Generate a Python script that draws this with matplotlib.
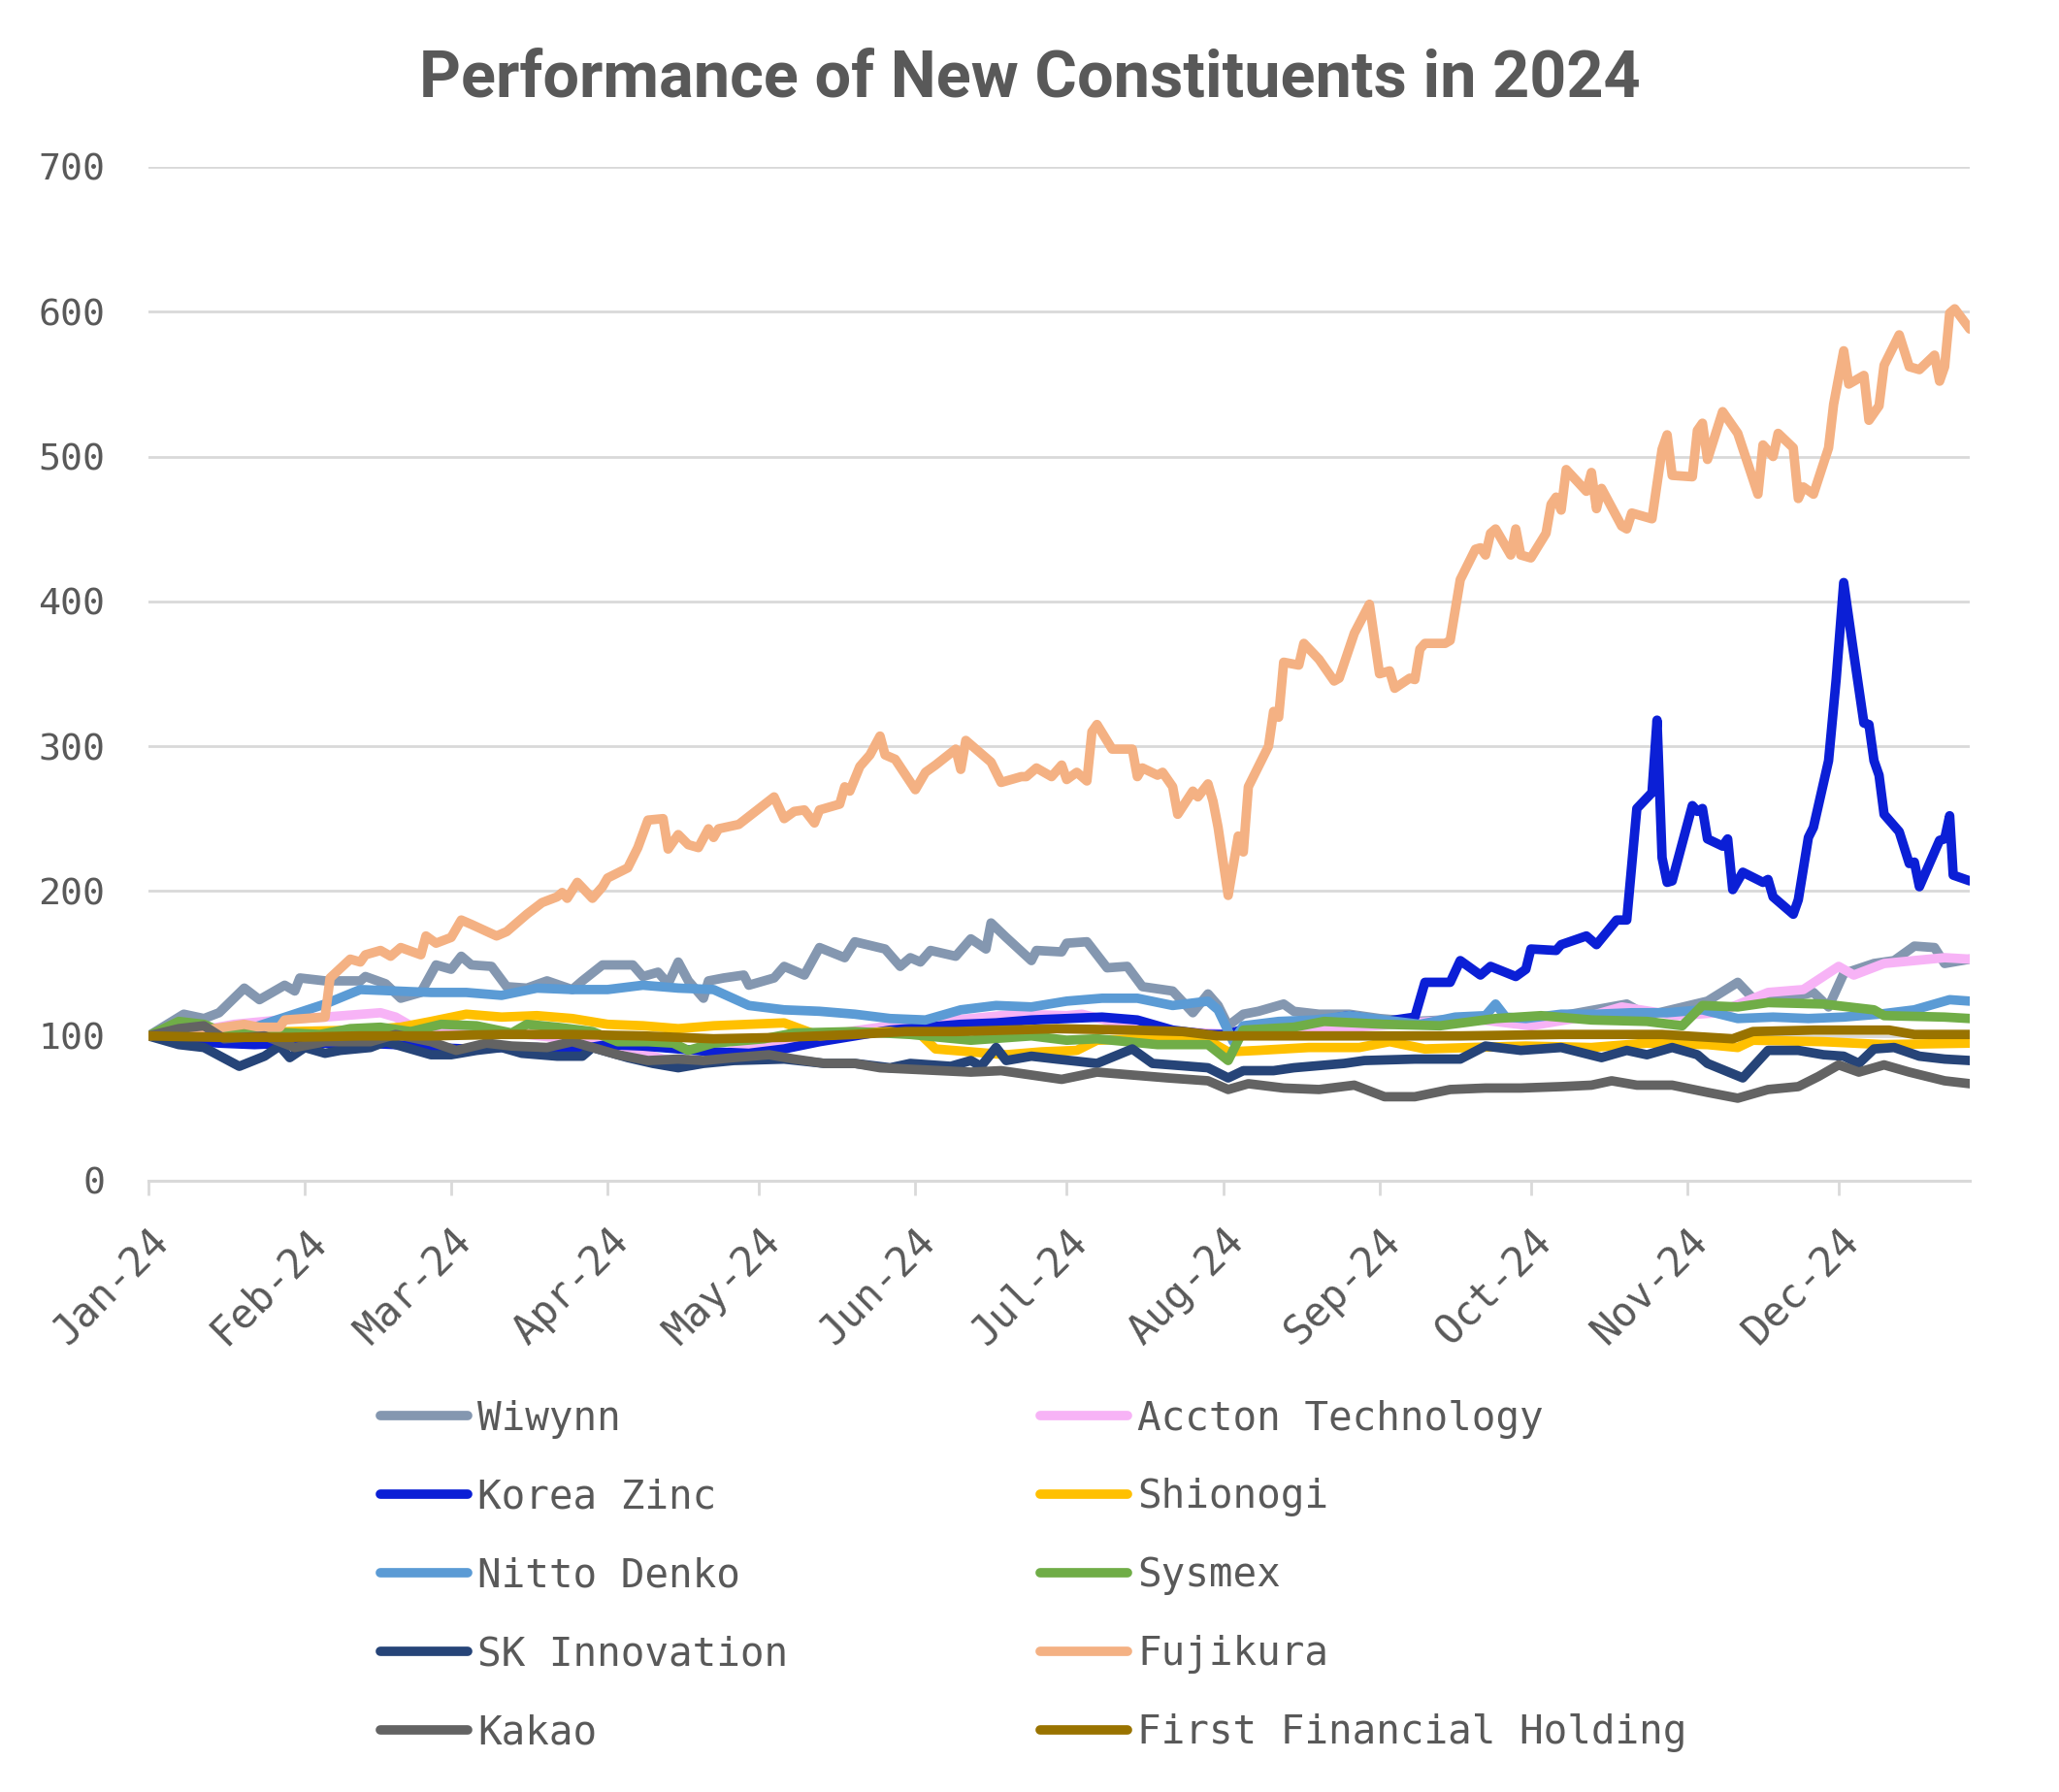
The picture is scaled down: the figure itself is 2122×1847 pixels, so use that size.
import pandas as pd
import matplotlib
matplotlib.use("Agg")
import matplotlib.pyplot as plt
import matplotlib.dates as mdates

# index values (start = 100), x given as days since 1 Jan 2024
wiwynn_days = [0, 7, 11, 14, 19, 22, 27, 29, 30, 35, 42, 43, 47, 50, 54, 57, 60, 62, 64, 68,
               71, 75, 79, 84, 86, 90, 96, 98, 101, 103, 105, 107, 110, 111, 114, 118, 119, 124, 126, 130,
               133, 138, 140, 146, 149, 151, 153, 155, 160, 163, 166, 167, 170, 175, 176, 181, 182, 186, 190, 194,
               197, 203, 207, 210, 212, 214, 217, 220, 225, 227, 232, 238, 244, 251, 262, 274, 293, 297, 309, 315,
               318, 323, 330, 333, 336, 342, 346, 350, 354, 356, 361]
wiwynn = [100, 115, 112, 116, 133, 125, 135, 131, 140, 138, 138, 141, 136, 126, 130, 149, 146, 155, 149, 148,
          134, 133, 138, 132, 138, 149, 149, 141, 144, 136, 151, 138, 126, 138, 140, 142, 135, 140, 148, 142,
          161, 154, 165, 160, 148, 154, 151, 159, 155, 167, 160, 178, 168, 152, 159, 158, 164, 165, 147, 148,
          134, 131, 116, 129, 121, 107, 115, 117, 122, 117, 115, 115, 112, 110, 112, 110, 122, 114, 124, 137,
          126, 125, 130, 120, 143, 150, 152, 162, 161, 150, 153]

accton_days = [0, 9, 17, 29, 35, 46, 49, 52, 63, 75, 88, 99, 102, 108, 116, 128, 135, 145, 156, 163,
               172, 182, 185, 198, 215, 239, 262, 274, 286, 292, 303, 311, 321, 328, 335, 338, 344, 350, 356, 361]
accton = [100, 103, 108, 112, 113, 116, 113, 107, 104, 101, 96, 87, 84, 80, 90, 97, 101, 106, 110, 112,
          115, 114, 115, 104, 101, 106, 112, 107, 114, 120, 114, 116, 130, 132, 148, 142, 150, 152, 154, 153]

korea_zinc_days = [0, 7, 14, 21, 28, 35, 42, 49, 56, 63, 70, 77, 84, 91, 98, 105, 112, 119, 126, 133,
                   140, 147, 154, 161, 168, 175, 182, 189, 196, 203, 210, 214, 218, 224, 231, 238, 245, 251, 253, 258,
                   260, 264, 266, 271, 273, 274, 279, 280, 285, 287, 291, 293, 295, 298, 299, 300, 301, 302, 306, 307,
                   308, 309, 312, 313, 314, 316, 320, 321, 322, 326, 327, 329, 330, 333, 334.5, 336, 337.7, 340, 341, 342,
                   343, 344, 347, 349, 350, 351, 355, 356, 357, 357.7, 361]
korea_zinc = [100, 97, 95, 94, 95, 95, 95, 94, 92, 91, 92, 92, 90, 94, 93, 91, 89, 88, 91, 96,
              100, 104, 106, 108, 109, 111, 112, 113, 111, 104, 101, 101, 106, 107, 110, 114, 110, 113, 137, 137,
              152, 142, 148, 141, 146, 160, 159, 163, 169, 163, 180, 180, 257, 268, 318, 223, 206, 207, 259, 255,
              257, 236, 231, 236, 201, 213, 206, 208, 196, 184, 194, 237, 244, 290, 346, 413, 371, 316, 315, 290,
              280, 253, 241, 219, 220, 203, 235, 236, 252, 211, 207]

shionogi_days = [0, 14, 28, 42, 50, 56, 63, 70, 77, 84, 91, 98, 105, 112, 119, 126, 133, 140, 147, 153,
                 156, 163, 170, 177, 184, 188, 196, 203, 210, 214, 220, 230, 240, 246, 253, 262, 273, 286, 297, 309,
                 315, 318, 332, 344, 361]
shionogi = [100, 101, 103, 104, 106, 110, 115, 113, 114, 112, 108, 107, 105, 107, 108, 109, 100, 102, 103, 101,
            91, 89, 87, 89, 90, 97, 98, 98, 97, 89, 90, 92, 92, 96, 91, 92, 93, 92, 95, 94,
            92, 97, 96, 94, 95]

nitto_days = [0, 7, 14, 21, 28, 35, 42, 49, 56, 63, 70, 77, 84, 91, 98, 105, 112, 119, 126, 133,
              140, 147, 154, 161, 168, 175, 182, 189, 196, 203, 210, 212, 215, 217, 224, 231, 238, 245, 252, 259,
              265, 267, 269, 273, 280, 287, 294, 301, 308, 315, 322, 329, 336, 343, 350, 357, 361]
nitto = [100, 103, 104, 106, 114, 122, 132, 131, 130, 130, 128, 133, 132, 132, 135, 133, 132, 121, 118, 117,
         115, 112, 111, 118, 121, 120, 124, 126, 126, 121, 124, 118, 96, 107, 110, 111, 114, 111, 108, 113,
         114, 122, 113, 112, 115, 115, 116, 116, 118, 112, 113, 112, 113, 115, 118, 125, 124]

sysmex_days = [0, 6, 11, 15, 23, 34, 40, 46, 52, 58, 65, 72, 75, 81, 88, 93, 99, 104, 107, 112,
               122, 128, 140, 151, 163, 175, 182, 188, 200, 210, 214, 217, 227, 233, 245, 256, 267, 276, 286, 297,
               304, 308, 315, 321, 332, 342, 344, 356, 361]
sysmex = [100, 110, 108, 102, 103, 101, 105, 106, 103, 108, 107, 102, 108, 106, 103, 96, 96, 95, 90, 95,
          98, 102, 103, 101, 97, 100, 97, 98, 94, 94, 83, 104, 106, 110, 108, 107, 112, 114, 111, 110,
          107, 121, 120, 123, 122, 118, 114, 113, 112]

sk_days = [0, 6, 11, 18, 23, 26, 28, 31, 35, 38, 44, 47, 51, 56, 60, 65, 70, 74, 81, 86,
           88, 95, 100, 105, 110, 116, 126, 134, 140, 147, 151, 159, 163, 165, 168, 170, 175, 180, 188, 195,
           199, 210, 214, 217, 223, 227, 237, 241, 251, 260, 265, 272, 280, 288, 293, 297, 302, 307, 309, 316,
           321, 327, 332, 336, 339, 342, 346, 351, 356, 361]
sk_innovation = [100, 94, 92, 79, 86, 93, 85, 92, 88, 90, 92, 96, 92, 87, 87, 90, 92, 88, 86, 86,
                 92, 85, 81, 78, 81, 83, 84, 81, 81, 78, 81, 79, 83, 79, 92, 83, 86, 84, 81, 91,
                 81, 78, 71, 76, 76, 78, 81, 83, 84, 84, 93, 90, 92, 85, 90, 87, 92, 87, 81, 71,
                 90, 90, 87, 86, 81, 91, 92, 86, 84, 83]

fujikura_days = [0, 13, 19, 22, 26, 27, 35, 36, 40, 42, 43, 46, 48, 50, 54, 55, 57, 60, 62, 64,
                 69, 71, 75, 78, 81, 82, 83, 85, 88, 90, 91, 95, 97, 99, 102, 103, 105, 107, 109, 111,
                 112, 113, 117, 124, 126, 128, 130, 132, 133, 137, 138, 139, 141, 143, 145, 146, 148, 152, 154, 156,
                 160, 161, 162, 167, 169, 173, 174, 176, 179, 181, 182, 184, 186, 187, 188, 191, 195, 196, 197, 200,
                 201, 203, 204, 207, 208, 210, 211, 212, 214, 216, 217, 218, 222, 223, 224, 225, 228, 229, 232, 235,
                 236, 239, 242, 244, 246, 247, 250, 251, 252, 253, 257, 258, 260, 263, 264, 265, 266, 267, 270, 271,
                 272, 274, 277, 278, 279, 280, 281, 285, 286, 287, 288, 292, 293, 294, 298, 300, 301, 302, 306, 307,
                 308, 309, 312, 315, 319, 320, 322, 323, 326, 327, 328, 330, 333, 334, 336, 337, 340, 341, 343, 344,
                 347, 349, 351, 354, 355, 356, 357, 358, 361]
fujikura = [100, 105, 108, 106, 106, 111, 113, 140, 153, 151, 156, 159, 155, 161, 156, 169, 164, 168, 180, 177,
            169, 172, 184, 192, 196, 199, 195, 206, 195, 203, 209, 216, 230, 249, 250, 229, 239, 232, 230, 243,
            237, 243, 246, 265, 250, 255, 256, 247, 256, 260, 272, 269, 286, 294, 307, 294, 291, 270, 282, 287,
            298, 284, 304, 289, 275, 279, 279, 285, 279, 287, 277, 282, 276, 310, 315, 298, 298, 279, 285, 280,
            282, 272, 253, 269, 265, 274, 262, 244, 197, 238, 227, 272, 300, 324, 320, 358, 356, 371, 360, 345,
            347, 378, 398, 350, 352, 340, 347, 346, 367, 371, 371, 373, 415, 436, 437, 432, 447, 450, 432, 450,
            432, 430, 447, 467, 472, 463, 491, 476, 489, 464, 478, 452, 450, 461, 457, 505, 515, 487, 486, 518,
            523, 498, 531, 516, 474, 508, 500, 516, 506, 471, 479, 474, 506, 536, 573, 550, 556, 525, 535, 563,
            584, 562, 560, 570, 552, 562, 599, 602, 588]

kakao_days = [0, 6, 11, 15, 23, 29, 35, 44, 49, 56, 61, 67, 72, 79, 84, 89, 93, 99, 105, 110,
              116, 123, 128, 134, 140, 145, 151, 157, 163, 169, 175, 181, 188, 195, 202, 210, 214, 218, 225, 232,
              239, 245, 251, 258, 265, 272, 280, 286, 290, 295, 302, 309, 315, 321, 327, 331, 335, 339, 344, 349,
              356, 361]
kakao = [100, 105, 107, 98, 100, 92, 96, 96, 101, 96, 90, 95, 93, 92, 96, 91, 87, 83, 84, 83,
         85, 87, 84, 81, 81, 78, 77, 76, 75, 76, 73, 70, 75, 73, 71, 69, 63, 67, 64, 63,
         66, 58, 58, 63, 64, 64, 65, 66, 69, 66, 66, 61, 57, 63, 65, 72, 80, 75, 80, 75,
         69, 67]

ffh_days = [0, 14, 28, 42, 56, 70, 84, 98, 112, 126, 140, 150, 160, 170, 180, 195, 205, 212, 220, 240,
            260, 280, 300, 314, 318, 330, 345, 350, 361]
first_financial = [100, 99, 99, 100, 100, 101, 101, 100, 98, 99, 101, 103, 103, 104, 105, 104, 103, 100, 100, 100,
                   100, 101, 101, 98, 103, 104, 104, 101, 101]

names = ["Wiwynn", "Accton Technology", "Korea Zinc", "Shionogi", "Nitto Denko",
         "Sysmex", "SK Innovation", "Fujikura", "Kakao", "First Financial Holding"]
colors = ["#8497B0", "#F7B3F6", "#0B1FD6", "#FFC000", "#5B9BD5",
          "#70AD47", "#264478", "#F4B183", "#636363", "#997300"]
series = [(wiwynn_days, wiwynn), (accton_days, accton), (korea_zinc_days, korea_zinc),
          (shionogi_days, shionogi), (nitto_days, nitto), (sysmex_days, sysmex),
          (sk_days, sk_innovation), (fujikura_days, fujikura), (kakao_days, kakao),
          (ffh_days, first_financial)]

start = pd.Timestamp("2024-01-01")
grey = "#595959"
light = "#D9D9D9"
mono = "DejaVu Sans Mono"

fig = plt.figure(figsize=(21.22, 18.47), dpi=100)
ax = fig.add_axes([0.0721, 0.3411, 0.8846, 0.5658])

handles = {}
for (days, vals), name, c in zip(series, names, colors):
    x = start + pd.to_timedelta(days, unit="D")
    line, = ax.plot(x, vals, color=c, lw=7, solid_capstyle="round",
                    solid_joinstyle="round", label=name)
    handles[name] = line

ax.set_ylim(0, 700)
ax.set_yticks(range(0, 701, 100))
ax.set_xlim(start, start + pd.Timedelta(days=361))
ax.xaxis.set_major_locator(mdates.MonthLocator())
ax.xaxis.set_major_formatter(mdates.DateFormatter("%b-%y"))

ax.yaxis.grid(True, color=light, lw=2)
ax.set_axisbelow(True)
for s in ["top", "right", "left"]:
    ax.spines[s].set_visible(False)
ax.spines["bottom"].set_color(light)
ax.spines["bottom"].set_linewidth(2.2)

ax.tick_params(axis="y", length=0, pad=32, labelsize=27.5, labelcolor=grey)
ax.tick_params(axis="x", length=11, width=2, color=light, pad=19, labelsize=30, labelcolor=grey)
for lab in ax.get_yticklabels() + ax.get_xticklabels():
    lab.set_fontfamily(mono)
plt.setp(ax.get_xticklabels(), rotation=45, ha="right", va="top", rotation_mode="anchor")

fig.suptitle("Performance of New Constituents in 2024", x=0.5, y=0.973,
             fontsize=48, fontweight="bold", color=grey, family="Roboto")

order = ["Wiwynn", "Korea Zinc", "Nitto Denko", "SK Innovation", "Kakao",
         "Accton Technology", "Shionogi", "Sysmex", "Fujikura", "First Financial Holding"]
leg = fig.legend([handles[n] for n in order], order, ncol=2, loc="upper left",
                 bbox_to_anchor=(0.1847, 0.219), frameon=False, borderpad=0, borderaxespad=0,
                 handlelength=2.2, handletextpad=0.25, columnspacing=6.33, labelspacing=1.0,
                 prop={"family": mono, "size": 29.5})
for t in leg.get_texts():
    t.set_color(grey)

fig.savefig("out.png", dpi=100)
